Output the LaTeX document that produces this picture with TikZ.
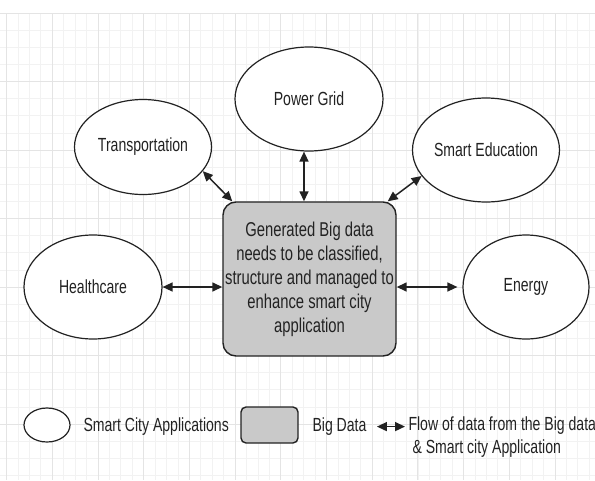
\documentclass[tikz,border=0pt]{standalone}
\usepackage{fontspec}
\setmainfont{Liberation Sans}[FakeStretch=0.74]
\usetikzlibrary{shapes.geometric,arrows.meta}
\definecolor{boxgray}{HTML}{C9C9C9}
\definecolor{gridmaj}{HTML}{E4E4E4}
\definecolor{gridmin}{HTML}{F2F2F2}
\definecolor{ink}{HTML}{222222}
\tikzset{
  every picture/.style={
    line width=1pt
  },
  app/.style={ellipse, draw=ink, line width=1.2pt, fill=white, inner sep=0pt,
    text=ink, font=\fontsize{19}{23}\selectfont},
  bigbox/.style={rectangle, rounded corners=13pt, draw=ink, line width=1.4pt,
    fill=boxgray, inner sep=0pt, text=ink},
  flow/.style={{Triangle[length=10pt,width=9pt]}-{Triangle[length=10pt,width=9pt]},
    line width=1.5pt, draw=ink},
  legtext/.style={inner sep=0pt, text=ink, font=\fontsize{19}{23}\selectfont},
  % background grid
  gridminor/.style={draw=gridmin, line width=0.6pt},
  gridmajor/.style={draw=gridmaj, line width=0.7pt}
}

\begin{document}
\begin{tikzpicture}[x=1pt, y=-1pt]
  \useasboundingbox (0,0) rectangle (595,480);
  \begin{scope}
    \clip (0,13) rectangle (595,480);
    \foreach \k in {-1,...,52} \draw[gridminor] ({6.5+11.425*\k},13) -- ++(0,467);
    \foreach \k in {0,...,27} \draw[gridminor] (0,{13+17.125*\k}) -- ++(595,0);
    \foreach \k in {0,...,12} \draw[gridmajor] ({6.5+45.7*\k},13) -- ++(0,467);
    \foreach \k in {0,...,7} \draw[gridmajor] (0,{13+68.5*\k}) -- ++(595,0);
  \end{scope}

  \node[bigbox, minimum width=173pt, minimum height=154pt, align=center,
    font=\fontsize{20}{24}\selectfont] (bigdata) at (309.5,279)
    {Generated Big data\\needs to be classified,\\structure and managed to\\enhance smart city\\application};

  \node[app, minimum width=148pt, minimum height=104pt] (power) at (309,99) {Power Grid};
  \node[app, minimum width=137pt, minimum height=95pt] (transport) at (143,147) {Transportation};
  \node[app, minimum width=136pt, minimum height=104pt] (educ) at (486,150) {Smart Education};
  \node[app, minimum width=138pt, minimum height=104pt] (health) at (93,287) {Healthcare};
  \node[app, minimum width=126pt, minimum height=104pt] (energy) at (526,287) {Energy};

  \draw[flow] (transport.-22) -- ([xshift=10pt]bigdata.north west);
  \draw[flow] ([xshift=-5pt]power.south) -- ([xshift=-5pt]power.south |- bigdata.north);
  \draw[flow] (educ.202) -- ([xshift=-9pt]bigdata.north east);
  \draw[flow] (health.east) -- (health.east -| bigdata.west);
  \draw[flow, shorten >=5pt] (bigdata.east |- energy.west) -- (energy.west);

  % legend
  \node[app, minimum width=46pt, minimum height=34pt] (legapp) at (47,425) {};
  \node[legtext, anchor=base west] (legapplbl) at (83,431.5) {Smart City Applications};
  \node[bigbox, rounded corners=5pt, minimum width=57pt, minimum height=36pt] (legbox) at (269.5,425) {};
  \node[legtext, anchor=base west] (legboxlbl) at (312,431.5) {Big Data};
  \node[legtext, anchor=west, align=left] (legflow) at (408,437)
    {Flow of data from the Big data\\\hspace*{4pt}\& Smart city Application};
  \draw[flow, shorten <=10pt, shorten >=3pt] (legboxlbl.east) -- (legboxlbl.east -| legflow.west);
\end{tikzpicture}
\end{document}
